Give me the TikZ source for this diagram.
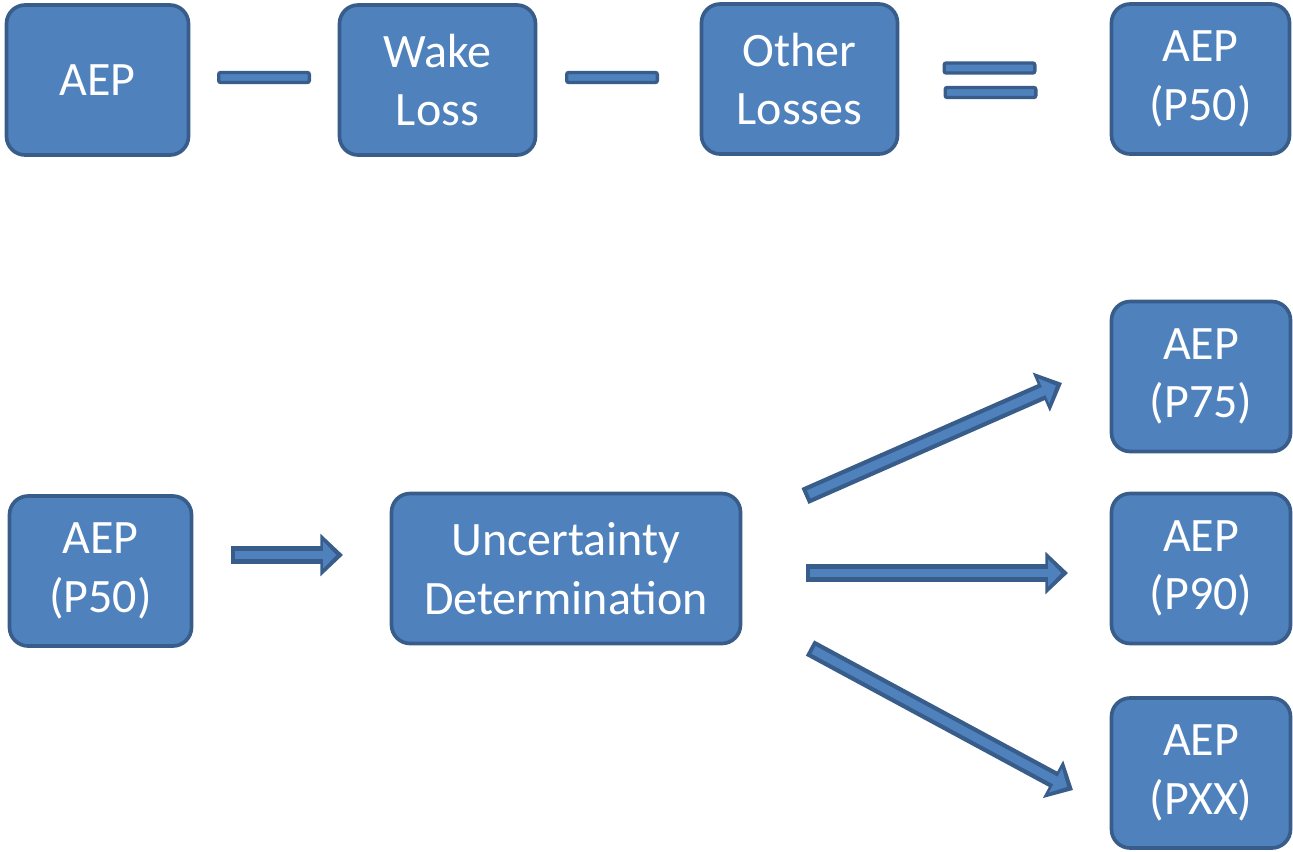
\documentclass[tikz,border=0pt]{standalone}
\usepackage{fontspec}
\setmainfont{Carlito}
\usetikzlibrary{arrows.meta}
\definecolor{boxfill}{HTML}{4F81BD}
\definecolor{boxline}{HTML}{385D8A}
\tikzset{
  box/.style={draw=boxline,fill=boxfill,line width=2.75pt,rounded corners=14pt,
    text=white,align=center,font=\fontsize{36}{44}\selectfont,
    minimum height=112.5pt,inner sep=0pt},
  opbar/.style={draw=boxline,fill=boxfill,line width=2.5pt,rounded corners=1.5pt,
    minimum width=68pt,minimum height=7.5pt,inner sep=0pt},
  fatarrow/.style={draw=boxline,line width=13pt,
    -{Triangle[length=17pt,width=31pt]},
    postaction={draw=boxfill,line width=6.5pt,shorten <=3pt,shorten >=5pt,
      -{Triangle[length=10pt,width=20pt]}}}
}
\begin{document}
\begin{tikzpicture}[x=0.75pt,y=-0.75pt]
  \useasboundingbox (0,0) rectangle (1293,851);

  % top row: AEP - wake loss - other losses = P50
  \node[box,minimum width=136.5pt] (aep) at (97.5,80) {AEP};
  \node[box,minimum width=147pt] (wake) at (437.5,80) {Wake\\Loss};
  \node[box,minimum width=147pt] (other) at (799.5,79) {Other\\Losses};
  \node[box,minimum width=133.5pt] (p50top) at (1200.5,79) {AEP\\(P50)};

  \node[opbar] (minus1) at (264,77.5) {};
  \node[opbar] (minus2) at (612,77.5) {};
  \node[opbar] (eq1) at (989.5,68) {};
  \node[opbar] (eq2) at (990.5,92.5) {};

  % bottom: P50 through uncertainty to the other levels
  \node[box,minimum width=136.5pt] (p50) at (100.5,571) {AEP\\(P50)};
  \node[box,minimum width=261.75pt] (unc) at (566,568.5) {Uncertainty\\Determination};
  \node[box,minimum width=134.25pt] (p75) at (1201,376.5) {AEP\\(P75)};
  \node[box,minimum width=134.25pt] (p90) at (1201,568.5) {AEP\\(P90)};
  \node[box,minimum width=134.25pt] (pxx) at (1201,773) {AEP\\(PXX)};

  \coordinate (in1) at (231,555);
  \coordinate (in2) at (343,555);
  \coordinate (up1) at (805,496);
  \coordinate (up2) at (1062,383);
  \coordinate (mid1) at (806,573);
  \coordinate (mid2) at (1068,573);
  \coordinate (dn1) at (810,648);
  \coordinate (dn2) at (1073,790);

  \foreach \from/\to in {in1/in2,up1/up2,mid1/mid2,dn1/dn2}
    \draw[fatarrow] (\from) -- (\to);

\end{tikzpicture}
\end{document}
